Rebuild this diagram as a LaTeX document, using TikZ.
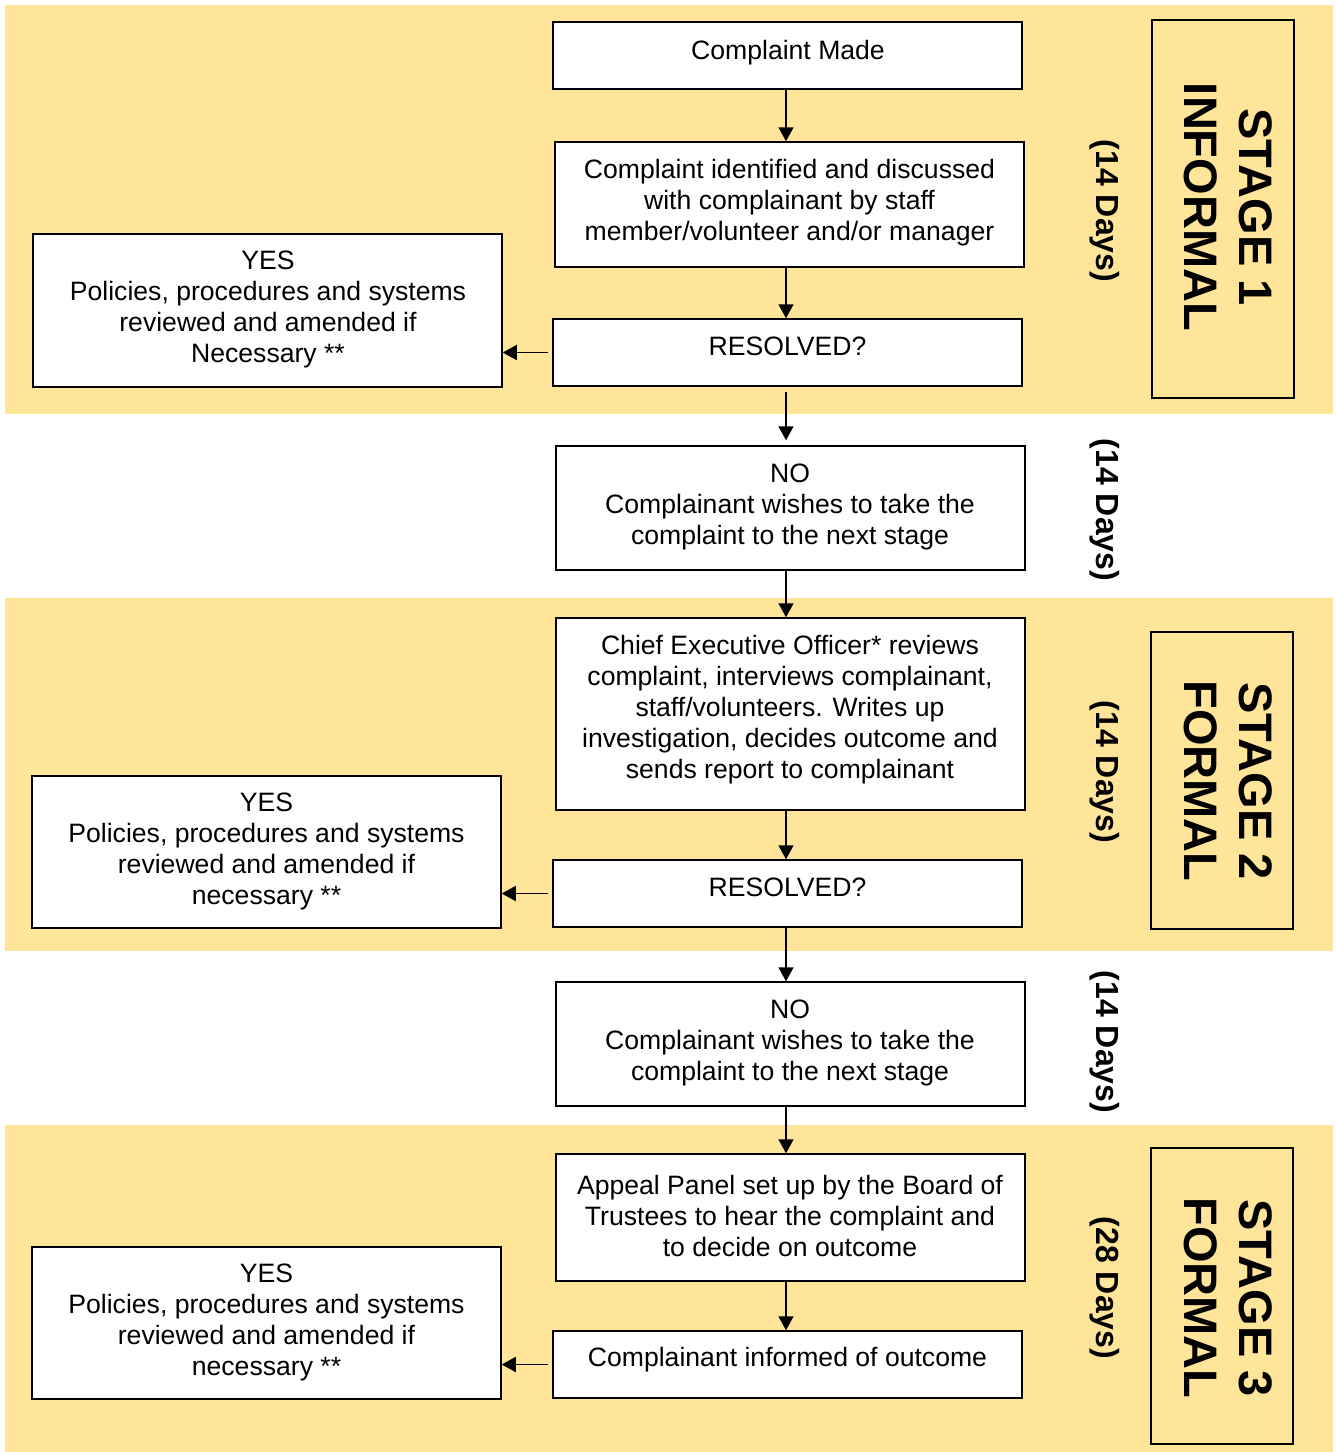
\documentclass[tikz,border=0pt]{standalone}
\usepackage{fontspec}
\setmainfont{Liberation Sans}
\usetikzlibrary{arrows.meta,fit}
\definecolor{bandyellow}{RGB}{255,229,153}
\begin{document}
\begin{tikzpicture}[x=0.5pt,y=-0.5pt,
  box/.style={draw=black,fill=white,line width=0.75pt,inner sep=0pt},
  lbl/.style={inner sep=0pt,align=center,font=\fontsize{13.3pt}{15.5pt}\selectfont},
  stagebox/.style={draw=black,line width=0.6pt,inner sep=0pt},
  stagetext/.style={rotate=-90,align=center,font=\fontsize{23.5pt}{27.5pt}\selectfont\bfseries},
  daystext/.style={rotate=-90,font=\fontsize{16pt}{19pt}\selectfont\bfseries},
  arr/.style={line width=0.75pt,-{Triangle[length=7pt,width=7.5pt]}}]
\useasboundingbox (0,0) rectangle (1335,1452);
\fill[white] (0,0) rectangle (1335,1452);
% bands
\fill[bandyellow] (5,5) rectangle (1333,414);
\fill[bandyellow] (5,598) rectangle (1333,951);
\fill[bandyellow] (5,1125) rectangle (1333,1452);
% main column boxes
\node[box,fit={(553,22) (1022,89)}] (made) {};
\node[box,fit={(555,142) (1024,267)}] (ident) {};
\node[box,fit={(553,319) (1022,386)}] (res1) {};
\node[box,fit={(33,234) (502,387)}] (yes1) {};
\node[box,fit={(556,446) (1025,570)}] (no1) {};
\node[box,fit={(556,618) (1025,810)}] (ceo) {};
\node[box,fit={(553,860) (1022,927)}] (res2) {};
\node[box,fit={(32,776) (501,928)}] (yes2) {};
\node[box,fit={(556,982) (1025,1106)}] (no2) {};
\node[box,fit={(556,1154) (1025,1281)}] (appeal) {};
\node[box,fit={(553,1331) (1022,1398)}] (inform) {};
\node[box,fit={(32,1247) (501,1399)}] (yes3) {};
% texts
\node[lbl] (made-t) at (788,53) {Complaint Made};
\node[lbl] (ident-t) at (789.5,202.5) {Complaint identified and discussed\\with complainant by staff\\member/volunteer and/or manager};
\node[lbl] (res1-t) at (787.5,346) {RESOLVED?};
\node[lbl] (yes1-t) at (268,309) {YES\\Policies, procedures and systems\\reviewed and amended if\\Necessary **};
\node[lbl] (no1-t) at (790,506.5) {NO\\Complainant wishes to take the\\complaint to the next stage};
\node[lbl] (ceo-t) at (790,709.5) {Chief Executive Officer* reviews\\complaint, interviews complainant,\\staff/volunteers. Writes up\\investigation, decides outcome and\\sends report to complainant};
\node[lbl] (res2-t) at (787.5,887) {RESOLVED?};
\node[lbl] (yes2-t) at (266.5,851) {YES\\Policies, procedures and systems\\reviewed and amended if\\necessary **};
\node[lbl] (no2-t) at (790,1043) {NO\\Complainant wishes to take the\\complaint to the next stage};
\node[lbl] (appeal-t) at (790,1215.5) {Appeal Panel set up by the Board of\\Trustees to hear the complaint and\\to decide on outcome};
\node[lbl] (inform-t) at (787.5,1360) {Complainant informed of outcome};
\node[lbl] (yes3-t) at (266.5,1322.5) {YES\\Policies, procedures and systems\\reviewed and amended if\\necessary **};
% vertical arrows
\coordinate (cx) at (786,0);
\draw[arr] (made.south -| cx) -- (ident.north -| cx);
\draw[arr] (ident.south -| cx) -- (res1.north -| cx);
\draw[arr,shorten <=2.5pt,shorten >=2.5pt] (res1.south -| cx) -- (no1.north -| cx);
\draw[arr] (no1.south -| cx) -- (ceo.north -| cx);
\draw[arr] (ceo.south -| cx) -- (res2.north -| cx);
\draw[arr] (res2.south -| cx) -- (no2.north -| cx);
\draw[arr] (no2.south -| cx) -- (appeal.north -| cx);
\draw[arr] (appeal.south -| cx) -- (inform.north -| cx);
% horizontal arrows
\draw[arr,shorten <=2pt] (res1.west) -- (res1.west -| yes1.east);
\draw[arr,shorten <=2pt] (res2.west) -- (res2.west -| yes2.east);
\draw[arr,shorten <=2pt] (inform.west) -- (inform.west -| yes3.east);
% stage boxes
\node[stagebox,fit={(1152,20) (1294,398)}] (st1) {};
\node[stagebox,fit={(1151,632) (1293,929)}] (st2) {};
\node[stagebox,fit={(1151,1148) (1293,1444)}] (st3) {};
\node[stagetext] (st1t) at (1228,207) {STAGE 1\\INFORMAL};
\node[stagetext] (st2t) at (1228,781) {STAGE 2\\FORMAL};
\node[stagetext] (st3t) at (1228,1298) {STAGE 3\\FORMAL};
% day labels
\node[daystext] (d1) at (1105,211) {(14 Days)};
\node[daystext] (d2) at (1105,510) {(14 Days)};
\node[daystext] (d3) at (1105,772) {(14 Days)};
\node[daystext] (d4) at (1105,1042) {(14 Days)};
\node[daystext] (d5) at (1105,1288) {(28 Days)};
\end{tikzpicture}
\end{document}
